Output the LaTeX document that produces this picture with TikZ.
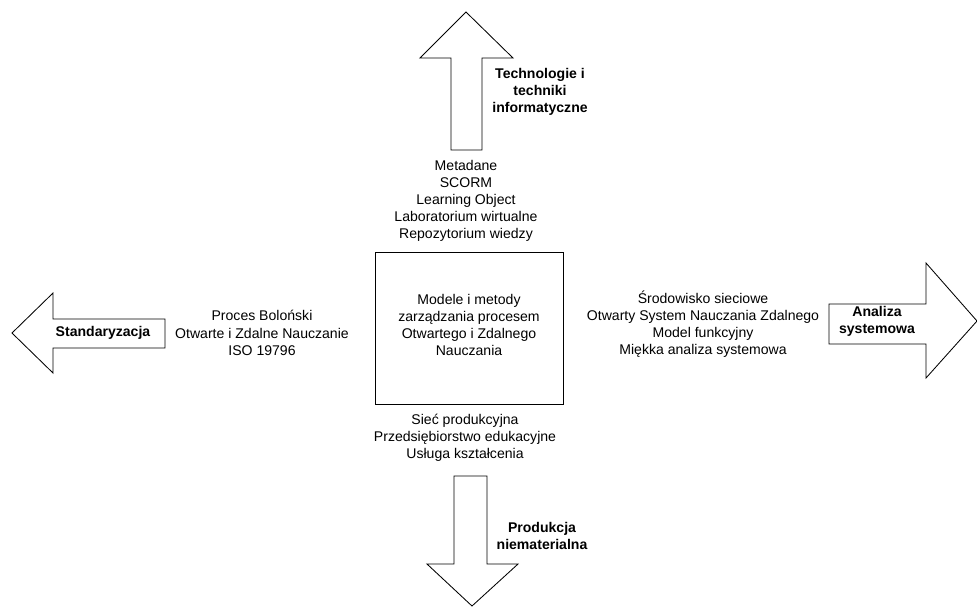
\documentclass[tikz,border=0pt]{standalone}
\usepackage{fontspec}
\setmainfont{Liberation Sans}
\usetikzlibrary{positioning}

\tikzset{
	txt/.style={align=center, inner sep=0pt, font=\fontsize{10}{12.2}\selectfont},
	btxt/.style={txt, font=\fontsize{10}{12.2}\selectfont\bfseries},
	blk/.style={line width=0.6pt, line join=miter},
}

\begin{document}
\begin{tikzpicture}[x=0.025cm, y=-0.025cm]
			%%%%% START %%%%%
			\useasboundingbox (0, 0) rectangle (977, 607);
			
			% centre
			\node[draw, line width=0.6pt, minimum width=4.7cm, minimum height=3.8cm] (core) at (469, 328) {};
			\node[txt] (coretxt) at (469, 325) {Modele i metody\\zarządzania procesem\\Otwartego i Zdalnego\\Nauczania};
			
			% up
			\draw[blk] (451, 150) -- (451, 58) -- (420, 58) -- (466, 12) -- (513, 58) -- (482, 58) -- (482, 150) -- cycle;
			\node[btxt] (tech) at (540, 92) {Technologie i\\techniki\\informatyczne};
			\node[txt] (toptxt) at (466, 201) {Metadane\\SCORM\\Learning Object\\Laboratorium wirtualne\\Repozytorium wiedzy};
			
			% left
			\draw[blk] (165, 319) -- (53, 319) -- (53, 293) -- (12, 333) -- (53, 373) -- (53, 348) -- (165, 348) -- cycle;
			\node[btxt] (stand) at (103, 333) {Standaryzacja};
			\node[txt] (lefttxt) at (262, 333) {Proces Boloński\\Otwarte i Zdalne Nauczanie\\ISO 19796};
			
			% right
			\draw[blk] (829, 304) -- (926, 304) -- (926, 263) -- (977, 321) -- (926, 378) -- (926, 344) -- (829, 344) -- cycle;
			\node[btxt] (anal) at (877, 321) {Analiza\\systemowa};
			\node[txt] (righttxt) at (703, 324) {Środowisko sieciowe\\Otwarty System Nauczania Zdalnego\\Model funkcyjny\\Miękka analiza systemowa};
			
			% down
			\draw[blk] (454, 476) -- (487, 476) -- (487, 564) -- (518, 564) -- (472, 606) -- (427, 564) -- (454, 564) -- cycle;
			\node[btxt] (prod) at (542, 536) {Produkcja\\niematerialna};
			\node[txt] (bottxt) at (465, 438) {Sieć produkcyjna\\Przedsiębiorstwo edukacyjne\\Usługa kształcenia};
			
			%%%%% END %%%%%
\end{tikzpicture}
\end{document}
